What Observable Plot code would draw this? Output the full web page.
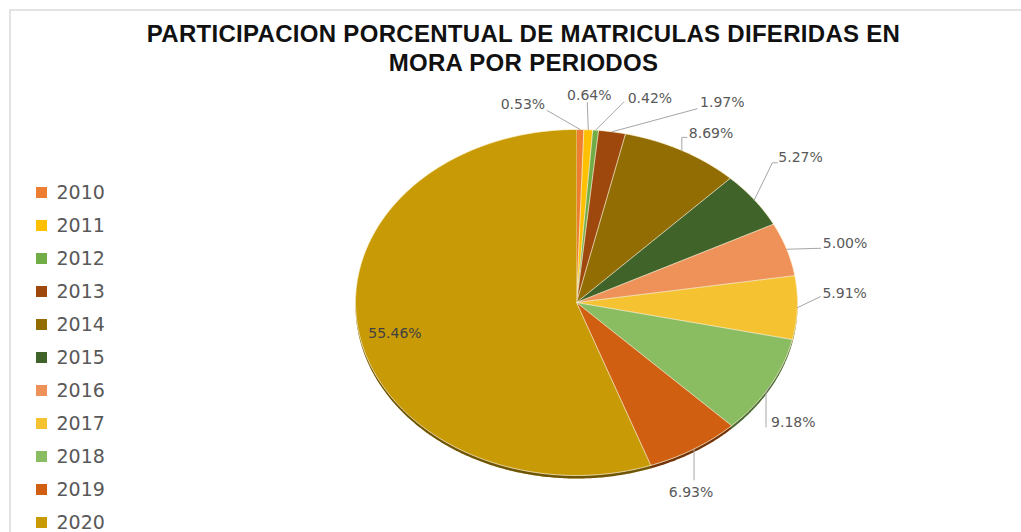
<!DOCTYPE html>
<html>
<head>
<meta charset="utf-8">
<script src="https://cdn.jsdelivr.net/npm/d3@7"></script>
<script src="https://cdn.jsdelivr.net/npm/@observablehq/plot@0.6"></script>
<style>
  html, body { margin: 0; padding: 0; background: #fff; }
  body { width: 1021px; height: 532px; position: relative; overflow: hidden; }
  #frame { position: absolute; left: 9px; top: 9px; width: 1030px; height: 540px;
           border-left: 2px solid #e3e3e3; border-top: 2px solid #e3e3e3; }
  #title { position: relative; height: 76px; box-sizing: border-box; padding-top: 19px; padding-left: 26px;
           text-align: center; font-family: "Liberation Sans", Arial, sans-serif; font-weight: bold;
           font-size: 24px; line-height: 29px; color: #111; letter-spacing: 0.3px; white-space: nowrap; }
  #chart { position: relative; }
  #legend { position: absolute; left: 0; top: 160px; }
</style>
</head>
<body>
<div id="frame"></div>
<div id="title">PARTICIPACION PORCENTUAL DE MATRICULAS DIFERIDAS EN<br>MORA POR PERIODOS</div>
<div id="chart"></div>
<div id="legend"></div>
<script>
// ---- data ----
const years  = ["2010","2011","2012","2013","2014","2015","2016","2017","2018","2019","2020"];
const shares = [0.53, 0.64, 0.42, 1.97, 8.69, 5.27, 5.00, 5.91, 9.18, 6.93, 55.46];
const colors = ["#ED7D31","#FFC000","#70AD47","#9E480E","#926D03","#40632A",
                "#EE925A","#F5C231","#8ABD62","#D05F12","#C89A06"];

// ---- label layout (pixel offsets from each slice's edge midpoint) ----
const leaderPath = [
  [[-33,-19]], [[-1,-27]], [[28,-28]], [[85,-23]], [[0,-13],[5,-13]],
  [[18,-37],[23,-37]], [[34,-1]], [[23,-11]], [[-4,6],[-4,41]], [[0,31]], null
];
const labelOffset = [
  [-35,-25,"end"], [1,-34,"middle"], [32,-32,"start"], [88,-29,"start"], [7,-17,"start"],
  [24,-42,"start"], [36,-6,"start"], [25,-14,"start"], [1,36,"start"], [-3,44,"middle"], [-3,7,"middle"]
];
const insideRadius = [1,1,1,1,1,1,1,1,1,1,0.82];

// ---- geometry in unit coordinates ----
const RX = 221, RY = 173;                // pixel half-axes of the pie
const total = d3.sum(shares);
const pie = d3.pie().sort(null).value(d => d)(shares);

const slicePts = [];
pie.forEach((p, i) => {
  slicePts.push({year: years[i], x: 0, y: 0});
  const n = Math.max(2, Math.ceil((p.endAngle - p.startAngle) / 0.01));
  for (let k = 0; k <= n; k++) {
    const a = p.startAngle + (p.endAngle - p.startAngle) * k / n;
    slicePts.push({year: years[i], x: Math.sin(a), y: Math.cos(a)});
  }
});

const labelRows = pie.map((p, i) => {
  const a = (p.startAngle + p.endAngle) / 2;
  const r = insideRadius[i];
  return {year: years[i], text: (shares[i] / total * 100).toFixed(2) + "%",
          x: r * Math.sin(a), y: r * Math.cos(a),
          dx: labelOffset[i][0], dy: labelOffset[i][1], anchor: labelOffset[i][2], inside: r < 1};
});

const leaderPts = [];
labelRows.forEach((l, i) => {
  if (!leaderPath[i]) return;
  leaderPts.push({year: l.year, x: l.x, y: l.y});
  for (const [px, py] of leaderPath[i]) {
    leaderPts.push({year: l.year, x: l.x + px / RX, y: l.y - py / RY});
  }
});

const color = {domain: years, range: colors};

const chart = Plot.plot({
  width: 1021,
  height: 456,
  margin: 0,
  x: {domain: [-1, 1], range: [576 - RX, 576 + RX], axis: null},
  y: {domain: [-1, 1], range: [226 + RY, 226 - RY], axis: null},
  color,
  style: {background: "transparent", overflow: "visible"},
  marks: [
    // 3D rim / shadow
    Plot.line(slicePts, {x: "x", y: "y", z: "year", fill: "year", stroke: "none", dy: 3}),
    Plot.line(slicePts, {x: "x", y: "y", z: "year", fill: "#000", fillOpacity: 0.45, stroke: "none", dy: 3}),
    // slices
    Plot.line(slicePts, {x: "x", y: "y", z: "year", fill: "year", stroke: "#fff5d8", strokeOpacity: 0.75, strokeWidth: 1}),
    // leader lines
    Plot.line(leaderPts, {x: "x", y: "y", z: "year", stroke: "#a6a6a6", strokeWidth: 1}),
    // labels
    ...labelRows.map(l => Plot.text([l], {
      x: "x", y: "y", text: "text", dx: l.dx, dy: l.dy, textAnchor: l.anchor,
      fill: l.inside ? "#404040" : "#595959", fontSize: 14, fontFamily: "DejaVu Sans",
      letterSpacing: 0.8
    }))
  ]
});
document.getElementById("chart").appendChild(chart);

const legend = Plot.plot({
  width: 160,
  height: 372,
  margin: 0,
  y: {type: "point", domain: years, range: [31, 362], padding: 0, axis: null},
  color,
  style: {background: "transparent"},
  marks: [
    Plot.dot(years, {y: d => d, fill: d => d, symbol: "square", r: 6.2, frameAnchor: "left", dx: 41}),
    Plot.text(years, {y: d => d, text: d => d, frameAnchor: "left", dx: 56, textAnchor: "start",
                      fill: "#595959", fontSize: 19, fontFamily: "DejaVu Sans", letterSpacing: 1})
  ]
});
document.getElementById("legend").appendChild(legend);
</script>
</body>
</html>
